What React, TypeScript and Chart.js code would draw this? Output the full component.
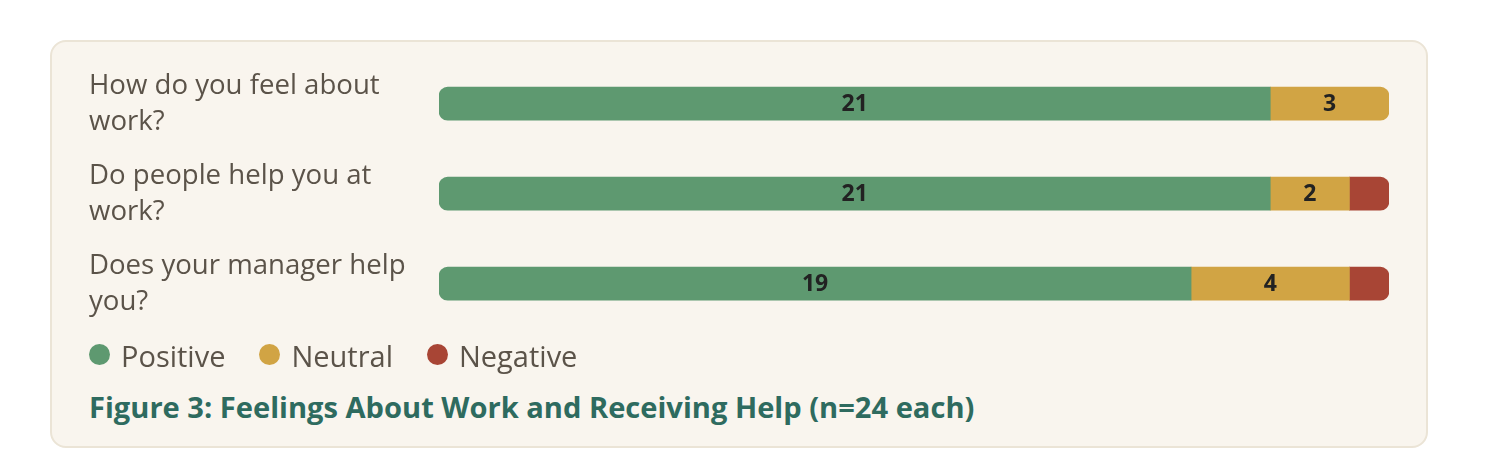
import React, { useEffect, useRef } from "react";
import { Chart, registerables } from "chart.js";

Chart.register(...registerables);

const categories: string[][] = [
  ["How do you feel about", "work?"],
  ["Do people help you at", "work?"],
  ["Does your manager help", "you?"],
];
const positive = [21, 21, 19];
const neutral = [3, 2, 4];
const negative = [0, 1, 1];
const seriesNames = ["Positive", "Neutral", "Negative"];
const seriesColors = ["#5e9970", "#d1a444", "#a84535"];
const totalMax = 24;
const caption = "Figure 3: Feelings About Work and Receiving Help (n=24 each)";

const FONT = "'Open Sans', 'Noto Sans', sans-serif";
const TEXT = "#5b5349";

const valueLabels = {
  id: "valueLabels",
  afterDatasetsDraw(chart: any) {
    const ctx = chart.ctx;
    ctx.save();
    ctx.font = `700 23px ${FONT}`;
    ctx.fillStyle = "#222222";
    ctx.textAlign = "center";
    ctx.textBaseline = "middle";
    chart.data.datasets.forEach((ds: any, di: number) => {
      const meta = chart.getDatasetMeta(di);
      meta.data.forEach((el: any, i: number) => {
        const v = ds.data[i];
        if (v != null && v > 1) {
          ctx.fillText(String(v), (el.x + el.base) / 2, el.y + 1);
        }
      });
    });
    ctx.restore();
  },
};

export default function App() {
  const ref = useRef<HTMLCanvasElement | null>(null);
  useEffect(() => {
    if (!ref.current) return;
    const data = [positive, neutral, negative];
    const chart = new Chart(ref.current, {
      type: "bar",
      data: {
        labels: categories,
        datasets: seriesNames.map((name, k) => ({
          label: name,
          // zero counts draw no segment at all
          data: data[k].map((v) => (v === 0 ? null : v)),
          backgroundColor: seriesColors[k],
          borderWidth: 0,
          borderRadius: 9,
          borderSkipped: "middle",
          barThickness: 33,
        })),
      },
      options: {
        indexAxis: "y",
        animation: false,
        responsive: true,
        maintainAspectRatio: false,
        layout: { padding: { left: 37, right: 37, top: 16.7, bottom: 13.3 } },
        plugins: {
          legend: { display: false },
          tooltip: { enabled: false },
          title: { display: false },
        },
        scales: {
          x: { stacked: true, display: false, min: 0, max: totalMax },
          y: {
            stacked: true,
            grid: { display: false, drawTicks: false },
            border: { display: false },
            ticks: {
              crossAlign: "far",
              color: TEXT,
              padding: 0,
              font: { family: FONT, size: 27.6, lineHeight: 36 / 27.6 },
            },
            afterFit(scale: any) {
              scale.width = 350;
              scale.paddingTop = 0;
              scale.paddingBottom = 0;
            },
          },
        },
      },
      plugins: [valueLabels],
    } as any);
    return () => chart.destroy();
  }, []);

  return (
    <div
      style={{
        position: "absolute",
        left: 50,
        top: 40,
        width: 1378,
        height: 408,
        boxSizing: "border-box",
        border: "2px solid #ebe4d6",
        borderRadius: 16,
        background: "#f9f5ee",
        fontFamily: FONT,
      }}
    >
      <div style={{ position: "absolute", left: 0, top: 0, width: 1374, height: 300 }}>
        <canvas ref={ref} />
      </div>
      <div
        style={{
          position: "absolute",
          left: 37,
          top: 293,
          height: 40,
          display: "flex",
          alignItems: "center",
          fontSize: 29,
          color: TEXT,
        }}
      >
        {seriesNames.map((name, k) => (
          <div key={name} style={{ display: "flex", alignItems: "center", marginRight: 34 }}>
            <span
              style={{
                display: "inline-block",
                width: 21,
                height: 21,
                borderRadius: "50%",
                background: seriesColors[k],
                marginRight: 11,
                marginTop: -2,
              }}
            />
            <span>{name}</span>
          </div>
        ))}
      </div>
      <div
        style={{
          position: "absolute",
          left: 37,
          top: 345,
          fontSize: 29.1,
          lineHeight: "normal",
          fontWeight: 700,
          color: "#2e6b5f",
          whiteSpace: "nowrap",
        }}
      >
        {caption}
      </div>
    </div>
  );
}
